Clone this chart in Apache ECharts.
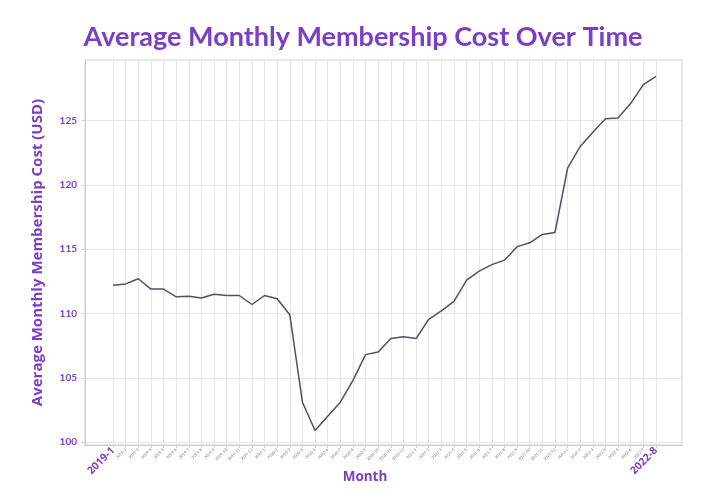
<!DOCTYPE html>
<html>
<head>
<meta charset="utf-8">
<script src="https://cdn.jsdelivr.net/npm/echarts@6/dist/echarts.min.js"></script>
<style>html,body{margin:0;padding:0;background:#fff}#c{width:720px;height:501px}</style>
</head>
<body>
<div id="c"></div>
<script>
const months = [];
for (let y = 2019; y <= 2022; y++) for (let m = 1; m <= 12; m++) { if (y === 2022 && m > 8) break; months.push(y + '-' + m); }
const costs = [112.2, 112.3, 112.7, 111.9, 111.9, 111.3, 111.35, 111.2, 111.5, 111.4, 111.4, 110.7, 111.4, 111.15, 109.9,
  103.1, 100.9, 102.0, 103.1, 104.8, 106.8, 107.0, 108.05, 108.2, 108.05, 109.55, 110.2, 110.95, 112.6, 113.3,
  113.8, 114.15, 115.2, 115.5, 116.15, 116.3, 121.3, 123.0, 124.1, 125.15, 125.2, 126.35, 127.8, 128.45];
const yTicks = [100, 105, 110, 115, 120, 125];
const xIdx = months.map((m, i) => i);
const purple = '#7B3FC4';
const chart = echarts.init(document.getElementById('c'));
chart.setOption({
  backgroundColor: '#fff',
  animation: false,
  title: [
    { text: 'Average Monthly Membership Cost Over Time', left: 363, top: 24, textAlign: 'center', padding: 0,
      textStyle: { fontFamily: 'Lato', fontWeight: 'bold', fontSize: 27, color: purple } },
    { text: 'Month', left: 365, top: 470, textAlign: 'center', padding: 0,
      textStyle: { fontFamily: 'Open Sans', fontWeight: 'bold', fontSize: 13.5, color: purple } }
  ],
  grid: { left: 85, top: 60, right: 38, bottom: 56, show: true, borderColor: '#d0d0d0', borderWidth: 1, backgroundColor: '#fff' },
  xAxis: {
    type: 'value', min: -2.22, max: 45.06,
    axisLine: { show: true, onZero: false, lineStyle: { color: '#cccccc' } },
    axisTick: { show: true, customValues: xIdx, length: 3, lineStyle: { color: '#cccccc' } },
    splitLine: { show: true, lineStyle: { color: '#e6e6e6', width: 1 } },
    axisLabel: {
      customValues: xIdx, rotate: 45, margin: 4,
      formatter: v => {
        const i = Math.round(v);
        if (i === 0 || i === months.length - 1) return '{b|' + months[i] + '}';
        return '{s|' + months[i] + '}';
      },
      rich: {
        b: { fontFamily: 'Open Sans', fontWeight: 'bold', fontSize: 10.5, color: purple },
        s: { fontFamily: 'Lato', fontSize: 4, color: '#777' }
      }
    }
  },
  yAxis: {
    type: 'value', min: 99.77, max: 129.72,
    name: 'Average Monthly Membership Cost (USD)', nameLocation: 'middle', nameGap: 40,
    nameTextStyle: { fontFamily: 'Open Sans', fontWeight: 'bold', fontSize: 15, color: purple },
    axisLine: { show: true, onZero: false, lineStyle: { color: '#cccccc' } },
    axisTick: { show: true, customValues: yTicks, length: 3, lineStyle: { color: '#cccccc' } },
    splitLine: { show: true, lineStyle: { color: '#e6e6e6', width: 1 } },
    axisLabel: { customValues: yTicks, margin: 8, fontFamily: 'Lato', fontWeight: 'bold', fontSize: 10, color: purple }
  },
  series: [{
    type: 'line', data: costs.map((v, i) => [xIdx[i], v]),
    showSymbol: false, lineStyle: { color: '#5b4a6e', width: 1.5 }
  }]
});
</script>
</body>
</html>
